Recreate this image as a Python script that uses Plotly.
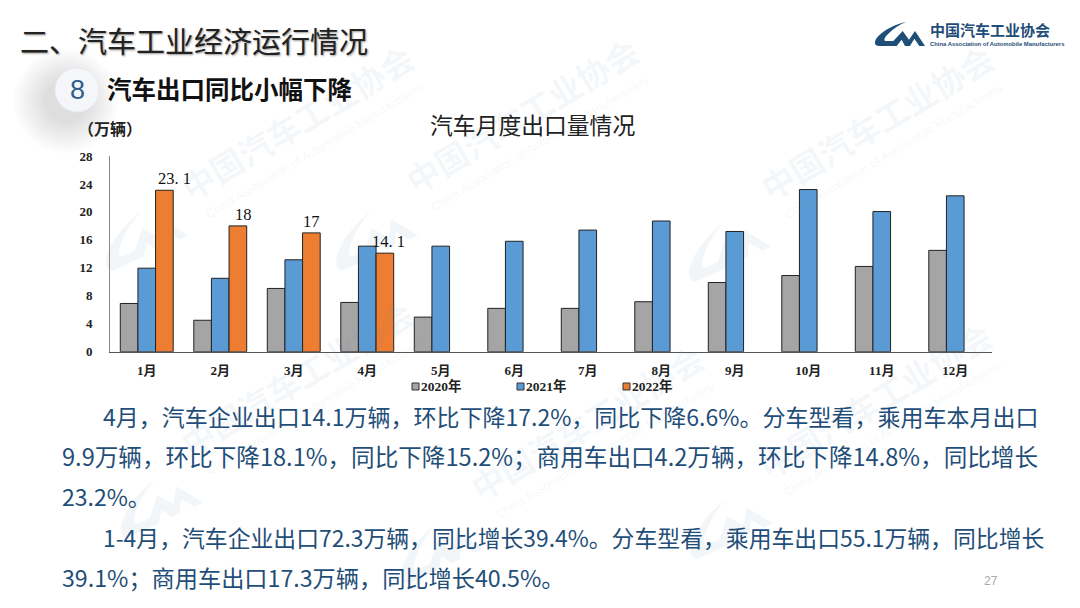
import math
import plotly.graph_objects as go

months = ["1月","2月","3月","4月","5月","6月","7月","8月","9月","10月","11月","12月"]
v2020 = [6.9,4.5,9.05,7.05,4.95,6.2,6.2,7.15,9.9,10.9,12.2,14.5]
v2021 = [11.95,10.5,13.15,15.1,15.1,15.8,17.4,18.7,17.2,23.2,20.05,22.3]
v2022 = [23.1,18,17,14.1]
label_text = ["23. 1","18","17","14. 1"]
yticks = [0,4,8,12,16,20,24,28]
series = [("2020年",v2020,"#A5A5A5"),("2021年",v2021,"#5B9BD5"),("2022年",v2022,"#ED7D31")]

label_shift = [28,23,18,21]
W,H = 1080,608
CJK = "Noto Sans CJK SC"
SER = "Liberation Serif, Noto Sans CJK SC"
BODY = "#1F4E79"

fig = go.Figure()
for name,vals,col in series:
    fig.add_bar(name=name,x=months[:len(vals)],y=vals,showlegend=False,
                marker=dict(color=col,line=dict(color="#222222",width=1)))

def px(x): return x/W
def py(y): return 1-y/H
ann=[]
def T(x,y,t,size,color="#111",font=CJK,anchor="left",**kw):
    f=kw.pop("f",{})
    ann.append(dict(xref="paper",yref="paper",x=px(x),y=py(y),text=t,showarrow=False,xanchor=anchor,yanchor="middle",
                    font=dict(family=font,size=size,color=color,**f),**kw))

shapes=[]
# soft shadow and badge
for r in range(52,20,-3):
    shapes.append(dict(type="circle",xref="paper",yref="paper",x0=px(66-r),x1=px(66+r),y0=py(101+r),y1=py(101-r),
                       fillcolor="rgba(120,120,120,0.018)",line_width=0,layer="below"))
shapes.append(dict(type="circle",xref="paper",yref="paper",x0=px(55),x1=px(99),y0=py(112),y1=py(68),
                   fillcolor="#F4F6F9",line=dict(color="#E8EAEE",width=1),layer="below"))

# logo outline in its own units, placed by a transform
LOGO=[("M",138,65),("C",100,72,50,100,45,125),("C",44,135,50,137,60,137),("L",110,137),("L",125,118),("L",135,137),
      ("L",150,137),("L",163,115),("L",178,137),("L",195,137),("L",165,92),("L",147,118),("L",128,92),("L",100,122),
      ("L",78,122),("C",70,122,72,112,85,100),("C",100,85,120,72,138,65)]
def logo(cx,cy,s,deg,color):
    a=math.radians(deg); out=[]
    for seg in LOGO:
        pts=[]
        for i in range(1,len(seg),2):
            dx,dy=(seg[i]-120)*s,(seg[i+1]-101)*s
            X=cx+dx*math.cos(a)-dy*math.sin(a); Y=cy+dx*math.sin(a)+dy*math.cos(a)
            pts.append(f"{px(X):.5f},{py(Y):.5f}")
        out.append(seg[0]+" "+" ".join(pts))
    shapes.append(dict(type="path",xref="paper",yref="paper",path=" ".join(out)+" Z",fillcolor=color,line_width=0,layer="below"))
logo(900,34,1/3,0,"#1F4E79")
WL="rgba(90,130,175,0.075)"
for cx,cy in [(140,235),(370,235),(723,246),(155,502),(435,548),(725,523)]:
    logo(cx,cy,0.58,-25,WL)

# watermarks
WM="rgba(90,130,175,0.08)"
for (x,y) in [(297,122),(522,115),(877,122),(297,378),(587,422),(875,400)]:
    T(x,y,"中国汽车工业协会",33,color=WM,anchor="center",textangle=-31,f=dict(weight="bold"))
    T(x+17,y+29,"China Association of Automobile Manufacturers",12,color=WM,font="Liberation Sans",anchor="center",textangle=-31)

# data labels
for i,(v,t) in enumerate(zip(v2022,label_text)):
    ann.append(dict(xref="x",yref="y",x=months[i],y=v,text=t,showarrow=False,xanchor="center",yanchor="bottom",
                    xshift=label_shift[i],font=dict(family=SER,size=16.5,color="#111")))

# legend
for (name,_,col),x in zip(series,[412,517,623]):
    shapes.append(dict(type="rect",xref="paper",yref="paper",x0=px(x),x1=px(x+7),y0=py(390),y1=py(383),
                       fillcolor=col,line=dict(color="#333",width=1)))
    T(x+7,386,name,13.5,color="#222",font=SER,f=dict(weight="bold"))

# headers
T(18,40,"二、汽车工业经济运行情况",29,color="#222",f=dict(shadow="1px 1px 2px #999"))
T(105,89,"汽车出口同比小幅下降",24.5,color="#111",f=dict(weight="bold"))
T(77,90,"8",27,color="#2F5D8A",font="Liberation Sans",anchor="center")
T(928,30,"中国汽车工业协会",15,color="#1F4E79",f=dict(weight="bold"))
T(928,44,"China Association of Automobile Manufacturers",5.9,color="#1F4E79",font="Liberation Sans",f=dict(weight="bold"))
T(76,128,"（万辆）",16,color="#222",f=dict(weight="bold"))
T(532,125,"汽车月度出口量情况",22.8,color="#222",anchor="center")

# body
lines=[(101,416,23,"4月，汽车企业出口14.1万辆，环比下降17.2%，同比下降6.6%。分车型看，乘用车本月出口"),
(60,456,23.6,"9.9万辆，环比下降18.1%，同比下降15.2%；商用车出口4.2万辆，环比下降14.8%，同比增长"),
(60,496,23,"23.2%。"),
(101,537,22.85,"1-4月，汽车企业出口72.3万辆，同比增长39.4%。分车型看，乘用车出口55.1万辆，同比增长"),
(60,577,23.2,"39.1%；商用车出口17.3万辆，同比增长40.5%。")]
for x,y,s,t in lines:
    T(x,y,t,s,color=BODY)
T(991,581,"27",12,color="#AAAAAA",font="Liberation Sans",anchor="center")

tf=dict(family=SER,size=13,color="#222",weight="bold")
fig.update_layout(width=W,height=H,margin=dict(l=0,r=0,t=0,b=0,autoexpand=False),paper_bgcolor="white",plot_bgcolor="rgba(0,0,0,0)",
    barmode="group",bargap=0.28,bargroupgap=0,
    xaxis=dict(domain=[px(110),px(992)],categoryorder="array",categoryarray=months,range=[-0.5,11.5],showgrid=False,zeroline=False,
               showline=True,linecolor="#555555",linewidth=1,ticks="",tickfont=tf,ticklabelstandoff=7,automargin=False),
    yaxis=dict(domain=[py(351.7),py(156)],range=[0,28],tickvals=yticks,showgrid=False,zeroline=False,
               showline=True,linecolor="#888888",linewidth=1,ticks="",tickfont=tf,ticklabelstandoff=14,automargin=False),
    annotations=ann,shapes=shapes,showlegend=False)
fig.write_html("out.html",config=dict(displayModeBar=False),post_script="document.body.style.margin='0';document.body.style.overflow='hidden';")
